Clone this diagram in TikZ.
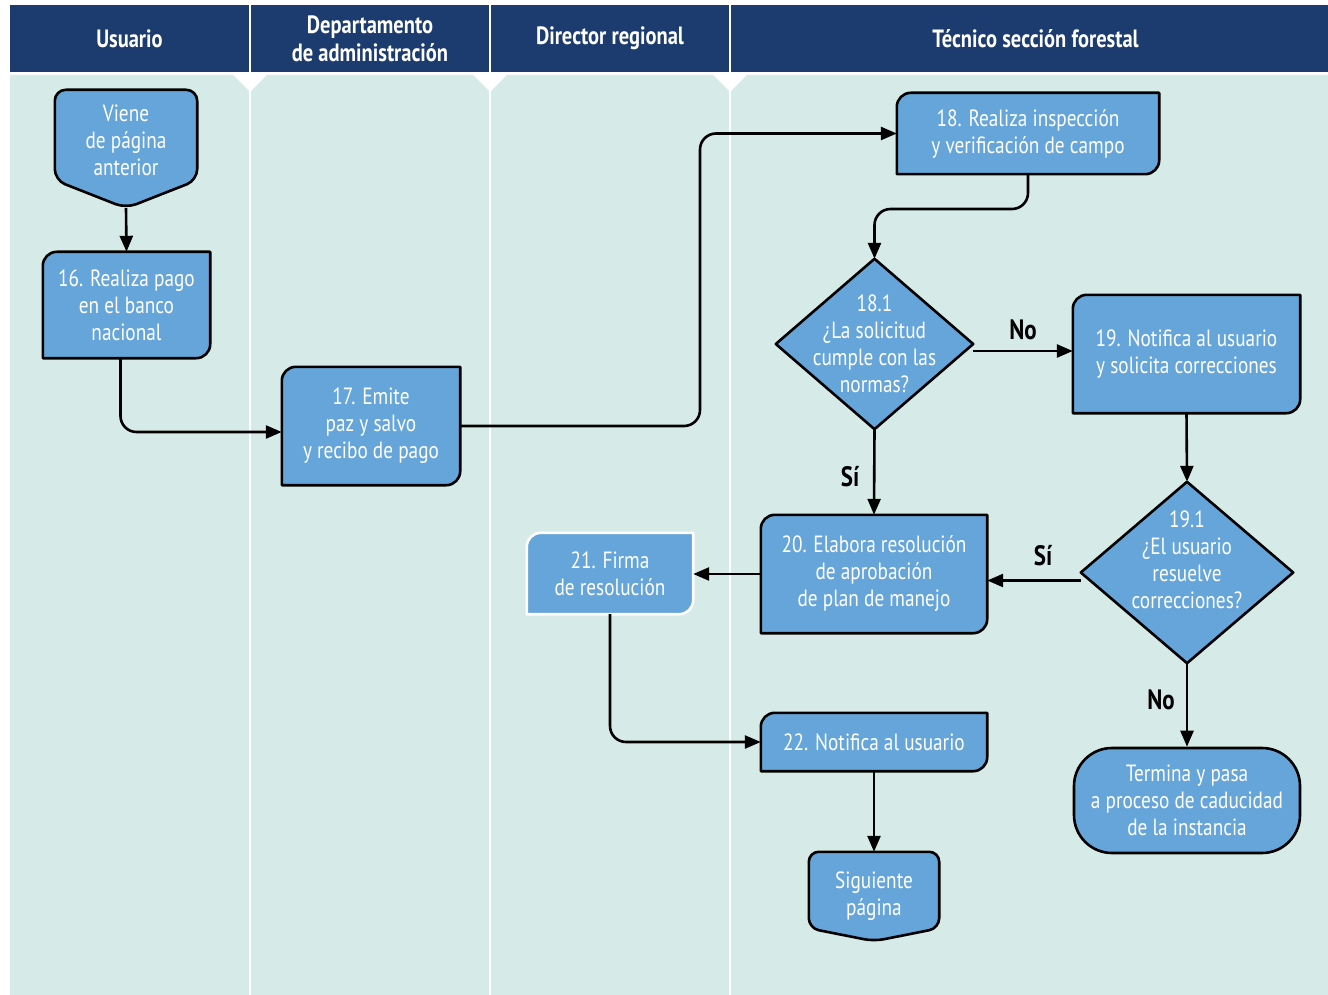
\documentclass[tikz,border=0pt]{standalone}
\usepackage{fontspec}
\setmainfont[FakeStretch=0.82]{PT Sans}
\usetikzlibrary{arrows.meta,calc}
\definecolor{navy}{HTML}{1C3B6E}
\definecolor{lanebg}{HTML}{D6EBE8}
\definecolor{boxblue}{HTML}{66A5DA}
\pgfdeclarelayer{back}\pgfdeclarelayer{mid}\pgfsetlayers{back,mid,main}
\newcommand\procoutline[2][black]{%
 \begin{pgfonlayer}{mid}
 \draw[outline,draw=#1] (#2.north east) -- ([yshift=14pt]#2.south east)
   arc[start angle=0,end angle=-90,radius=14pt] -- (#2.south west)
   -- ([yshift=-14pt]#2.north west) arc[start angle=180,end angle=90,radius=14pt] -- cycle;
 \end{pgfonlayer}}
\tikzset{
 txt/.style={text=white, align=center, font=\fontsize{23.5}{27}\selectfont, inner sep=0pt},
 hdr/.style={fill=navy, text=white, align=center, font=\bfseries\fontsize{25}{28}\selectfont, inner sep=0pt, minimum height=67pt},
 lbl/.style={font=\bfseries\fontsize{28}{30}\selectfont, text=black, inner sep=0pt},
 outline/.style={draw=black, line width=2.6pt, fill=boxblue, line join=round},
 conn/.style={draw=black, line width=2.6pt, rounded corners=16pt, -{Triangle[length=16pt,width=13pt]}},
}
\begin{document}
\begin{tikzpicture}[x=1pt,y=1pt]
\useasboundingbox (0,0) rectangle (1328,-995);
% lanes background
\begin{pgfonlayer}{back}
 \fill[lanebg] (10,-75) -- (233,-75) -- (249,-91) -- (249,-995) -- (10,-995) -- cycle;
 \fill[lanebg] (251,-91) -- (267,-75) -- (473,-75) -- (489,-91) -- (489,-995) -- (251,-995) -- cycle;
 \fill[lanebg] (491,-91) -- (507,-75) -- (713,-75) -- (729,-91) -- (729,-995) -- (491,-995) -- cycle;
 \fill[lanebg] (731,-91) -- (747,-75) -- (1328,-75) -- (1328,-995) -- (731,-995) -- cycle;
\end{pgfonlayer}
% headers
\node[hdr, minimum width=239pt] (h1) at (129.5,-38.5) {Usuario};
\node[hdr, minimum width=238pt] (h2) at (370,-38.5) {Departamento\\de administración};
\node[hdr, minimum width=238pt] (h3) at (610,-38.5) {Director regional};
\node[hdr, minimum width=597pt] (h4) at (1029.5,-38.5) {\hspace*{12pt}Técnico sección forestal};
% off-page connector (in)
\node[minimum width=142pt, minimum height=118pt, inner sep=0pt] (vien) at (126,-149) {};
\begin{pgfonlayer}{mid}
 \draw[outline, rounded corners=11pt] (vien.north west) -- (vien.north east) -- ([yshift=28pt]vien.south east)
   -- (vien.south) -- ([yshift=28pt]vien.south west) -- cycle;
\end{pgfonlayer}
\node[txt] (vientxt) at (126,-140) {Viene\\de página\\anterior};
% process boxes
\node[txt, minimum width=167pt, minimum height=106pt] (b16) at (126.5,-305) {16. Realiza pago\\en el banco\\nacional};
\procoutline{b16}
\node[txt, minimum width=178pt, minimum height=118pt] (b17) at (371,-426) {17. Emite\\paz y salvo\\y recibo de pago};
\procoutline{b17}
\node[txt, minimum width=262pt, minimum height=81pt] (b18) at (1028,-133.5) {18. Realiza inspección\\y verificación de campo};
\procoutline{b18}
\node[txt, minimum width=227pt, minimum height=118pt] (b19) at (1186.5,-354) {19. Notifica al usuario\\y solicita correcciones};
\procoutline{b19}
\node[txt, minimum width=226pt, minimum height=118pt] (b20) at (874,-574) {20. Elabora resolución\\de aprobación\\de plan de manejo};
\procoutline{b20}
\node[txt, minimum width=166pt, minimum height=81pt] (b21) at (610,-573.5) {21. Firma\\de resolución};
\procoutline[white]{b21}
\node[txt, minimum width=226pt, minimum height=58pt] (b22) at (874,-742) {22. Notifica al usuario};
\procoutline{b22}
% decisions
\node[txt, minimum width=197pt, minimum height=170pt] (d18) at (874.5,-344) {18.1\\¿La solicitud\\cumple con las\\normas?};
\begin{pgfonlayer}{mid}
 \draw[outline] (d18.north) -- (d18.east) -- (d18.south) -- (d18.west) -- cycle;
\end{pgfonlayer}
\node[minimum width=212pt, minimum height=181pt, inner sep=0pt] (d19) at (1187,-572.5) {};
\begin{pgfonlayer}{mid}
 \draw[outline] (d19.north) -- (d19.east) -- (d19.south) -- (d19.west) -- cycle;
\end{pgfonlayer}
\node[txt] (d19txt) at (1187,-560) {19.1\\¿El usuario\\resuelve\\correcciones?};
% terminal
\node[txt, outline, rounded corners=38pt, minimum width=226pt, minimum height=105pt] (term) at (1187,-800.5) {Termina y pasa\\a proceso de caducidad\\de la instancia};
% off-page connector (out)
\node[txt, minimum width=130pt, minimum height=89pt] (sig) at (874,-896.5) {Siguiente\\página};
\begin{pgfonlayer}{mid}
 \draw[outline, rounded corners=10pt] (sig.north west) -- (sig.north east) -- ([yshift=13pt]sig.south east)
   -- (sig.south) -- ([yshift=13pt]sig.south west) -- cycle;
\end{pgfonlayer}
% junction coordinates
\coordinate (j1) at (700,-300);
\coordinate (j2) at (950,-209);
% connectors
\draw[conn] (vien.south) -- (b16.north);
\draw[conn] ([xshift=-6pt]b16.south) |- ([yshift=-6pt]b17.west);
\draw[conn] (b17.east) -| (j1) |- (b18.west);
\draw[conn] (b18.south) |- (j2) -| (d18.north);
\draw[conn] ([yshift=-7pt]d18.east) -- ([yshift=-7pt]d18.east -| b19.west);
\draw[conn] (d18.south) -- (b20.north);
\draw[conn] (b19.south) -- (d19.north);
\draw[conn] ([yshift=-8pt]d19.west) -- ([yshift=-8pt]d19.west -| b20.east);
\draw[conn] (d19.south) -- (term.north);
\draw[conn] (b20.west) -- (b20.west -| b21.east);
\draw[conn] (b21.south) |- (b22.west);
\draw[conn] (b22.south) -- (sig.north);
% labels
\node[lbl] (lno1) at (1023,-330) {No};
\node[lbl] (lsi1) at (850,-477) {Sí};
\node[lbl] (lsi2) at (1043,-556) {Sí};
\node[lbl] (lno2) at (1161,-700) {No};
\end{tikzpicture}
\end{document}
